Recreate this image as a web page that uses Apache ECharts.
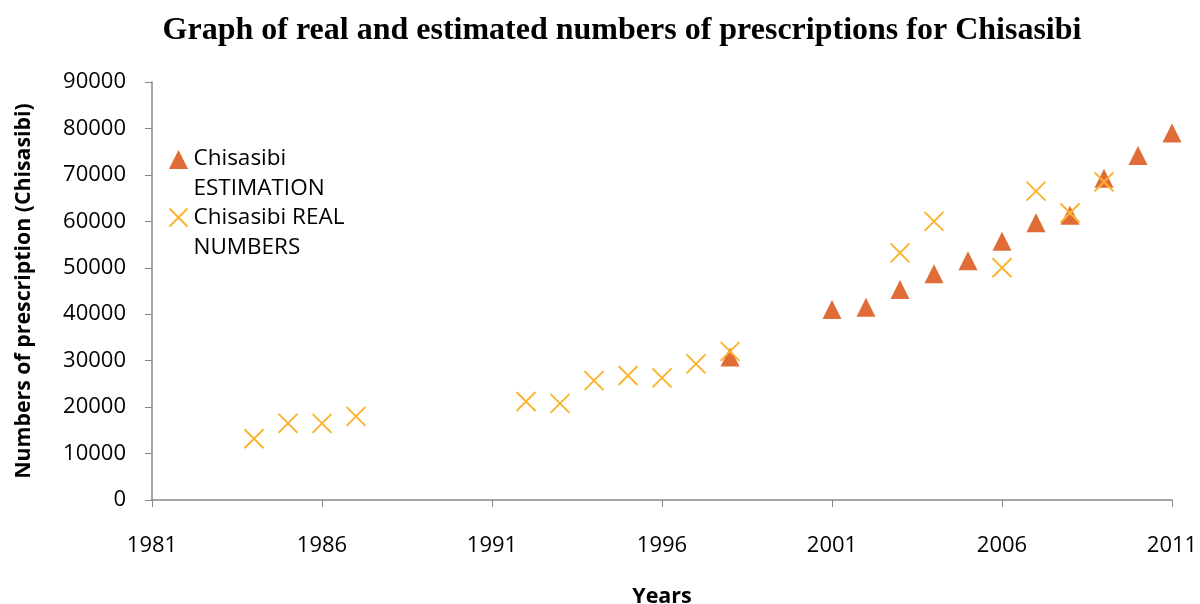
<!DOCTYPE html>
<html><head><meta charset="utf-8">
<script src="https://cdn.jsdelivr.net/npm/echarts@6/dist/echarts.min.js"></script>
<style>html,body{margin:0;padding:0;background:#fff}#c{width:1200px;height:604px}</style>
</head><body><div id="c"></div>
<script>
const estYears = [1998, 2001, 2002, 2003, 2004, 2005, 2006, 2007, 2008, 2009, 2010, 2011];
const estValues = [30800, 41000, 41500, 45300, 48700, 51500, 55700, 59700, 61300, 69300, 74200, 79000];
const realYears = [1984, 1985, 1986, 1987, 1992, 1993, 1994, 1995, 1996, 1997, 1998, 2003, 2004, 2006, 2007, 2008, 2009];
const realValues = [13200, 16500, 16500, 18000, 21200, 20800, 25700, 26800, 26300, 29300, 32000, 53200, 60000, 50000, 66500, 61800, 68500];
const estName = 'Chisasibi\nESTIMATION';
const realName = 'Chisasibi REAL\nNUMBERS';

const chart = echarts.init(document.getElementById('c'));
const sans = '"Open Sans", "Liberation Sans", sans-serif';
const fmt = v => String(v);
chart.setOption({
  animation: false,
  backgroundColor: '#fff',
  title: {
    text: 'Graph of real and estimated numbers of prescriptions for Chisasibi',
    left: 617, top: 10, textAlign: 'center',
    textStyle: { fontFamily: '"Liberation Serif", "Times New Roman", serif', fontSize: 32, fontWeight: 'bold', color: '#000' }
  },
  legend: {
    orient: 'vertical', left: 166, top: 144, padding: 0, itemGap: -4, itemWidth: 20, itemHeight: 60,
    textStyle: { fontFamily: sans, fontSize: 22.5, color: '#000', lineHeight: 30 },
    data: [
      { name: estName, icon: 'path://M0,0M10,6L19.5,25L0.5,25ZM20,60' },
      { name: realName, icon: 'path://M0,0M1,6L19,24M19,6L1,24M20,60' }
    ]
  },
  grid: { left: 152, right: 28, top: 82, bottom: 104, containLabel: false, outerBoundsMode: 'none' },
  xAxis: {
    type: 'value', min: 1981, max: 2011, interval: 5,
    name: 'Years', nameLocation: 'middle', nameGap: 86,
    nameTextStyle: { fontFamily: sans, fontSize: 21.5, fontWeight: 'bold', color: '#000' },
    axisLine: { show: true, lineStyle: { color: '#898989', width: 1.5 } },
    axisTick: { show: true, inside: false, length: 7, lineStyle: { color: '#898989' } },
    splitLine: { show: false },
    axisLabel: { fontFamily: sans, fontSize: 22, color: '#000', margin: 35, formatter: fmt }
  },
  yAxis: {
    type: 'value', min: 0, max: 90000, interval: 10000,
    name: 'Numbers of prescription (Chisasibi)', nameLocation: 'middle', nameGap: 118, nameRotate: 90,
    nameTextStyle: { fontFamily: sans, fontSize: 21.3, fontWeight: 'bold', color: '#000' },
    axisLine: { show: true, lineStyle: { color: '#898989', width: 1.5 } },
    axisTick: { show: true, inside: false, length: 7, lineStyle: { color: '#898989' } },
    splitLine: { show: false },
    axisLabel: { fontFamily: sans, fontSize: 22, color: '#000', margin: 26, formatter: fmt }
  },
  series: [
    {
      name: estName, type: 'scatter', symbol: 'triangle', symbolSize: [19, 19],
      itemStyle: { color: '#E06C37', opacity: 1 },
      data: estYears.map((y, i) => [y, estValues[i]])
    },
    {
      name: realName, type: 'scatter', symbol: 'path://M0,0L10,10M10,0L0,10', symbolSize: 19,
      itemStyle: { color: 'none', borderColor: '#FBB430', borderWidth: 2, opacity: 1 },
      data: realYears.map((y, i) => [y, realValues[i]])
    }
  ]
});
</script></body></html>
